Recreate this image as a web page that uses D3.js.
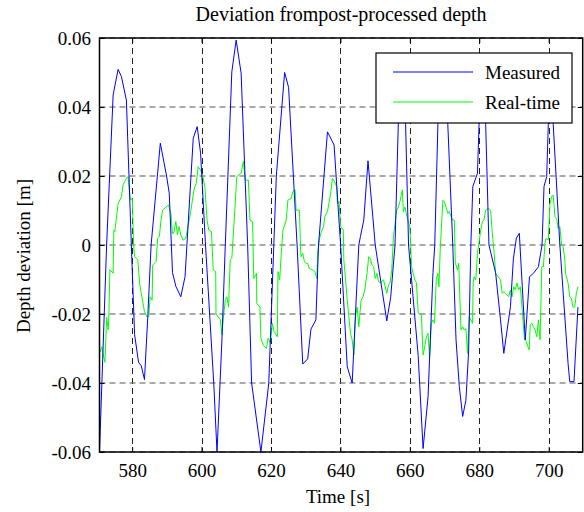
<!DOCTYPE html>
<html>
<head>
<meta charset="utf-8">
<script src="https://cdnjs.cloudflare.com/ajax/libs/d3/7.8.5/d3.min.js"></script>
<style>
  body { margin: 0; background: #fff; }
  svg { display: block; font-family: "Liberation Serif", "Times New Roman", serif; }
</style>
</head>
<body>
<div id="chart"></div>
<script>
// [time (s), depth deviation (m)]
var measured = [
  [570.6, -0.060], [572.65, 0.000], [574.53, 0.0435], [575.96, 0.0509], [576.92, 0.0488],
  [578.35, 0.042], [579.77, 0.000], [580.71, -0.026], [581.85, -0.034], [582.62, -0.035],
  [583.56, -0.039], [584.50, -0.021], [585.47, 0.000], [588.12, 0.0295], [589.92, 0.020],
  [590.69, 0.015], [591.63, -0.008], [592.6, -0.012], [594.02, -0.015], [595.24, -0.0092],
  [597.61, 0.031], [598.75, 0.0343], [599.72, 0.0266], [601.14, 0.000], [603.51, -0.040],
  [604.45, -0.060], [605.87, -0.0275], [606.84, 0.000], [608.72, 0.0502], [609.97, 0.0594],
  [611.40, 0.0498], [613.28, 0.000], [614.42, -0.040], [617.10, -0.060], [619.37, -0.040],
  [621.54, 0.020], [623.93, 0.050], [625.07, 0.0457], [627.52, 0.000], [629.15, -0.0345],
  [630.57, -0.033], [631.51, -0.0244], [632.94, -0.0217], [633.7, 0.000], [636.27, 0.0328],
  [638.18, 0.029], [640.06, 0.000], [641.97, -0.0353], [643.39, -0.040], [645.30, 0.000],
  [645.76, 0.0024], [646.73, 0.0072], [647.95, 0.0244], [650.03, 0.000], [653.36, -0.022],
  [654.5, -0.015], [655.73, 0.000], [656.7, 0.036], [657.64, 0.045], [658.78, 0.035],
  [659.63, 0.000], [662.40, -0.032], [663.82, -0.059], [665.25, -0.044], [666.67, -0.008],
  [667.18, 0.000], [668.09, 0.035], [669.32, 0.050], [670.94, 0.035], [672.37, 0.000],
  [673.31, -0.0275], [674.25, -0.041], [675.22, -0.0497], [676.15, -0.045], [676.93, -0.031],
  [677.58, 0.000], [678.15, 0.017], [679.49, 0.0208], [679.94, 0.035], [681.0, 0.045],
  [681.85, 0.035], [682.79, 0.000], [684.7, -0.008], [686.13, -0.0217], [687.07, -0.0314],
  [688.98, -0.0179], [689.83, -0.004], [690.69, 0.002], [691.54, 0.0034], [693.25, -0.0275],
  [694.47, -0.0092], [695.61, -0.0082], [697.04, -0.0063], [698.09, 0.000], [698.66, 0.017],
  [699.43, 0.0198], [699.89, 0.035], [700.66, 0.045], [701.31, 0.035], [703.22, 0.000],
  [705.58, -0.0343], [706.07, -0.0396], [707.29, -0.0396], [708.43, -0.018]
];

var realtime = [
  [570.74, -0.031], [571.23, -0.0295], [572.17, -0.034], [572.65, -0.021], [573.11, -0.0246],
  [573.31, -0.020], [573.59, -0.0072], [574.53, -0.0082], [574.73, 0.0043], [575.02, 0.0039],
  [575.96, 0.012], [576.92, 0.014], [577.38, 0.0174], [578.35, 0.0193], [578.81, 0.0198],
  [579.49, 0.013], [580.06, 0.0135], [580.43, 0.000], [580.71, -0.0034], [581.65, -0.0043],
  [582.14, -0.011], [582.62, -0.014], [583.56, -0.0193], [584.22, -0.0208], [584.79, -0.0208],
  [585.19, -0.015], [585.76, -0.016], [585.93, -0.0058], [586.90, -0.0048], [587.35, 0.0019],
  [587.84, 0.0024], [588.32, 0.0072], [588.78, 0.0101], [589.75, 0.011], [590.49, 0.0116],
  [591.17, 0.0092], [591.63, 0.0032], [592.11, 0.0039], [592.59, 0.0068], [593.05, 0.0029],
  [593.53, 0.0053], [594.02, 0.0029], [594.67, 0.0014], [595.44, 0.0019], [596.18, 0.0058],
  [596.87, 0.0097], [597.81, 0.016], [598.46, 0.0179], [599.03, 0.0227], [599.72, 0.0217],
  [600.37, 0.0198], [600.94, 0.0169], [601.60, 0.0072], [602.08, 0.0043], [602.85, 0.0039],
  [603.36, -0.0072], [604.08, -0.0077], [604.16, -0.020], [605.41, -0.0217], [605.87, -0.026],
  [606.35, -0.0203], [606.84, -0.016], [607.30, -0.015], [607.78, -0.018], [608.26, -0.0043],
  [608.72, -0.0039], [609.69, 0.012], [610.14, 0.0198], [611.40, 0.0208], [612.05, 0.0242],
  [612.54, 0.0188], [613.48, 0.0188], [613.96, 0.0072], [614.70, 0.0068], [615.04, -0.0097],
  [615.84, -0.0082], [615.90, -0.0169], [616.81, -0.018], [617.10, -0.027], [617.75, -0.029],
  [618.69, -0.030], [619.18, -0.027], [619.83, -0.0285], [620.40, -0.0227], [620.89, -0.0251],
  [621.82, -0.0266], [622.02, -0.0077], [622.51, -0.0101], [622.97, -0.0024], [623.45, 0.0043],
  [624.39, 0.0072], [624.87, 0.013], [625.81, 0.0135], [626.30, 0.0155], [626.95, 0.016],
  [627.24, 0.0101], [628.21, 0.0101], [628.49, -0.0005], [628.66, -0.0034], [629.15, -0.0024],
  [629.63, -0.0048], [630.09, -0.0053], [630.57, -0.0053], [631.06, -0.0068], [632.00, -0.0072],
  [632.65, -0.0077], [633.22, -0.0097], [633.42, -0.0024], [633.91, 0.0014], [634.36, 0.0034],
  [635.13, 0.0053], [635.50, 0.0082], [636.27, 0.0097], [637.21, 0.015], [637.70, 0.0193],
  [638.35, 0.0183], [638.92, 0.0169], [639.12, 0.012], [639.60, 0.0126], [640.06, 0.0053],
  [640.83, 0.0043], [640.98, -0.0043], [641.49, -0.0101], [641.97, -0.016], [642.91, -0.0256],
  [643.39, -0.0275], [643.88, -0.0319], [644.33, -0.0208], [644.82, -0.018], [645.30, -0.0237],
  [645.96, -0.016], [646.53, -0.015], [647.01, -0.013], [647.67, -0.0082], [648.15, -0.0034],
  [648.61, -0.0039], [649.09, -0.0058], [649.58, -0.0063], [650.03, -0.0097], [650.52, -0.0082],
  [651.00, -0.0106], [651.46, -0.011], [652.42, -0.0101], [653.36, -0.014], [653.85, -0.0116],
  [654.30, -0.011], [654.79, -0.0072], [655.28, 0.0024], [656.22, 0.0101], [656.70, 0.011],
  [657.15, 0.0126], [657.84, 0.016], [658.12, 0.0097], [658.58, 0.011], [659.06, 0.0087],
  [660.00, 0.0053], [660.49, -0.0063], [661.43, -0.0101], [661.91, -0.011], [662.40, -0.0197],
  [663.34, -0.0203], [663.82, -0.0319], [664.28, -0.0295], [664.76, -0.0266], [665.25, -0.0256],
  [665.70, -0.0328], [666.19, -0.0227], [666.67, -0.0217], [667.12, -0.0227], [667.61, -0.0101],
  [668.09, -0.0082], [668.38, -0.0121], [668.75, -0.0014], [669.52, 0.013], [669.97, 0.0126],
  [670.94, 0.0092], [671.40, 0.0097], [671.88, 0.0082], [672.37, 0.0072], [672.82, 0.0072],
  [673.11, -0.0053], [673.79, -0.0072], [674.08, -0.0053], [674.73, -0.0246], [675.22, -0.0237],
  [675.67, -0.0246], [676.15, -0.0242], [676.64, -0.0314], [677.09, -0.0208], [677.58, -0.0217],
  [678.07, -0.0227], [678.24, -0.011], [678.52, -0.0092], [679.00, -0.0101], [679.49, -0.0024],
  [680.42, 0.0043], [680.91, 0.0068], [681.36, 0.0072], [681.85, 0.0101], [682.62, 0.0106],
  [683.28, 0.0101], [683.76, 0.0034], [684.22, -0.0014], [684.70, -0.0082], [685.47, -0.0092],
  [686.13, -0.0101], [686.61, -0.014], [687.07, -0.0135], [687.55, -0.014], [688.49, -0.015],
  [688.98, -0.013], [689.46, -0.015], [689.92, -0.0121], [690.40, -0.013], [690.89, -0.011],
  [691.34, -0.013], [691.83, -0.0121], [692.31, -0.018], [693.05, -0.0275], [693.54, -0.028],
  [694.02, -0.0295], [694.39, -0.0304], [694.68, -0.0232], [695.16, -0.0227], [695.62, -0.0237],
  [696.10, -0.0246], [696.58, -0.0266], [697.04, -0.0217], [697.52, -0.0275], [698.01, -0.0063],
  [698.46, -0.0063], [698.95, 0.0005], [699.23, 0.0019], [699.89, 0.0014], [700.37, 0.012],
  [700.86, 0.014], [701.31, 0.0145], [701.80, 0.0082], [702.28, 0.0077], [702.74, 0.0048],
  [703.22, 0.0053], [703.71, 0.000], [704.16, -0.0005], [704.65, -0.0043], [704.85, -0.0082],
  [705.58, -0.011], [706.07, -0.015], [706.56, -0.0155], [707.01, -0.018], [707.50, -0.018],
  [707.98, -0.014], [708.44, -0.0121]
];

var xTicks = [580, 600, 620, 640, 660, 680, 700];
var yTicks = [-0.06, -0.04, -0.02, 0, 0.02, 0.04, 0.06];
var yTickLabels = ["-0.06", "-0.04", "-0.02", "0", "0.02", "0.04", "0.06"];
var seriesNames = ["Measured", "Real-time"];
var seriesColors = ["#0000ff", "#00ff00"];

var width = 584, height = 512;
var margin = {top: 38, right: 1.3, bottom: 60, left: 99.5};

var svg = d3.select("#chart").append("svg")
  .attr("width", width)
  .attr("height", height);

var x = d3.scaleLinear()
  .domain([570.6, 709.8])
  .range([margin.left, width - margin.right]);
var y = d3.scaleLinear()
  .domain([-0.06, 0.06])
  .range([height - margin.bottom, margin.top]);

var x0 = x.range()[0], x1 = x.range()[1], y0 = y.range()[1], y1 = y.range()[0];

svg.append("clipPath").attr("id", "plotclip")
  .append("rect")
  .attr("x", x0).attr("y", y0)
  .attr("width", x1 - x0).attr("height", y1 - y0);

// dashed grid
var grid = svg.append("g").attr("class", "grid");
grid.selectAll(".gx")
  .data(xTicks)
  .enter()
    .append("line")
    .attr("x1", function(d) { return Math.round(x(d)) + 0.5; })
    .attr("x2", function(d) { return Math.round(x(d)) + 0.5; })
    .attr("y1", y0).attr("y2", y1)
    .attr("stroke", "#222")
    .attr("stroke-width", 1)
    .attr("stroke-dasharray", "6,4");
grid.selectAll(".gy")
  .data(yTicks)
  .enter()
    .append("line")
    .attr("x1", x0).attr("x2", x1)
    .attr("y1", function(d) { return y(d); })
    .attr("y2", function(d) { return y(d); })
    .attr("stroke", "#555")
    .attr("stroke-width", 1)
    .attr("stroke-dasharray", "6,4");

var line = d3.line()
  .x(function(d) { return x(d[0]); })
  .y(function(d) { return y(d[1]); });

var plot = svg.append("g").attr("clip-path", "url(#plotclip)");
plot.append("path")
  .attr("d", line(realtime))
  .attr("fill", "none")
  .attr("stroke", seriesColors[1])
  .attr("stroke-width", 1);
plot.append("path")
  .attr("d", line(measured))
  .attr("fill", "none")
  .attr("stroke", seriesColors[0])
  .attr("stroke-width", 1);

// axes, ticks pointing inward on all four sides
svg.append("g")
  .attr("transform", "translate(0," + y1 + ")")
  .call(d3.axisBottom(x).tickValues(xTicks).tickSize(-5).tickSizeOuter(0).tickPadding(11.5))
  .call(styleAxis);
svg.append("g")
  .attr("transform", "translate(0," + y0 + ")")
  .call(d3.axisTop(x).tickValues(xTicks).tickSize(-5).tickSizeOuter(0).tickFormat(""))
  .call(styleAxis);
svg.append("g")
  .attr("transform", "translate(" + x0 + ",0)")
  .call(d3.axisLeft(y).tickValues(yTicks).tickSize(-5).tickSizeOuter(0).tickPadding(8.5)
      .tickFormat(function(d, i) { return yTickLabels[i]; }))
  .call(styleAxis);
svg.append("g")
  .attr("transform", "translate(" + x1 + ",0)")
  .call(d3.axisRight(y).tickValues(yTicks).tickSize(-5).tickSizeOuter(0).tickFormat(""))
  .call(styleAxis);

function styleAxis(g) {
  g.select(".domain").remove();
  g.selectAll(".tick line").attr("stroke", "#000");
  g.selectAll("text")
    .attr("fill", "#000")
    .style("font-family", "Liberation Serif, serif")
    .style("font-size", "19px");
}

svg.append("rect")
  .attr("x", x0).attr("y", y0)
  .attr("width", x1 - x0).attr("height", y1 - y0)
  .attr("fill", "none")
  .attr("stroke", "#000")
  .attr("stroke-width", 1.5);

// title and labels
svg.append("text")
  .attr("x", (x0 + x1) / 2)
  .attr("y", 21)
  .style("text-anchor", "middle")
  .style("font-size", "20px")
  .text("Deviation frompost-processed depth");
svg.append("text")
  .attr("x", 338)
  .attr("y", 503)
  .style("text-anchor", "middle")
  .style("font-size", "19px")
  .text("Time [s]");
svg.append("text")
  .attr("transform", "translate(30,256) rotate(-90)")
  .style("text-anchor", "middle")
  .style("font-size", "19px")
  .text("Depth deviation [m]");

// legend
var legend = svg.append("g").attr("transform", "translate(376,53)");
legend.append("rect")
  .attr("width", 196).attr("height", 70)
  .attr("fill", "#fff")
  .attr("stroke", "#000")
  .attr("stroke-width", 1.2);
seriesNames.forEach(function(name, i) {
  var ly = 19 + i * 30;
  legend.append("line")
    .attr("x1", 17).attr("x2", 97)
    .attr("y1", ly).attr("y2", ly)
    .attr("stroke", seriesColors[i])
    .attr("stroke-width", 1);
  legend.append("text")
    .attr("x", 109)
    .attr("y", ly + 6.5)
    .style("font-size", "19px")
    .text(name);
});
</script>
</body>
</html>
